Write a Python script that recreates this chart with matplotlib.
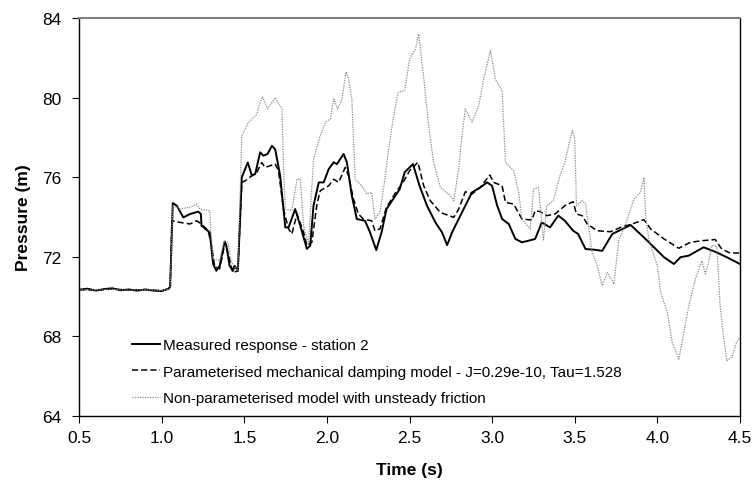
import matplotlib.pyplot as plt

# measured response - station 2
t_meas = [0.5, 0.55, 0.6, 0.65, 0.7, 0.75, 0.8, 0.85, 0.9, 0.95, 1.0, 1.04, 1.05,
          1.066, 1.09, 1.13, 1.17, 1.22, 1.236, 1.24, 1.29, 1.31, 1.33, 1.35, 1.38, 1.39,
          1.41, 1.43, 1.44, 1.46, 1.484, 1.52, 1.545, 1.565, 1.595, 1.615, 1.64, 1.666,
          1.686, 1.716, 1.747, 1.767, 1.807, 1.838, 1.878, 1.898, 1.918, 1.95, 1.98, 2.01,
          2.04, 2.06, 2.10, 2.12, 2.15, 2.18, 2.23, 2.26, 2.298, 2.33, 2.36, 2.40, 2.44,
          2.47, 2.52, 2.56, 2.605, 2.656, 2.696, 2.727, 2.757, 2.797, 2.837, 2.878, 2.928,
          2.969, 2.999, 3.03, 3.06, 3.10, 3.14, 3.18, 3.22, 3.26, 3.30, 3.35, 3.40, 3.44,
          3.49, 3.52, 3.565, 3.615, 3.666, 3.727, 3.767, 3.838, 3.939, 4.04, 4.10, 4.14,
          4.19, 4.28, 4.36, 4.42, 4.50]
p_meas = [70.35, 70.4, 70.3, 70.38, 70.42, 70.32, 70.36, 70.3, 70.36, 70.3, 70.28, 70.4, 70.5,
          74.7, 74.57, 73.98, 74.15, 74.27, 74.15, 73.56, 73.23, 71.64, 71.3, 71.55, 72.76, 72.56,
          71.55, 71.3, 71.55, 71.3, 76.0, 76.74, 76.08, 76.16, 77.25, 77.08, 77.17, 77.58,
          77.4, 76.08, 73.48, 73.48, 74.4, 73.56, 72.4, 72.56, 74.57, 75.74, 75.74, 76.41,
          76.75, 76.66, 77.17, 76.75, 75.07, 73.9, 73.81, 73.23, 72.34, 73.23, 74.4, 74.9, 75.4,
          76.25, 76.66, 75.57, 74.57, 73.73, 73.23, 72.59, 73.23, 73.9, 74.57, 75.24, 75.49,
          75.74, 75.57, 74.57, 73.9, 73.65, 72.9, 72.73, 72.81, 72.9, 73.73, 73.48, 74.07, 73.81,
          73.31, 73.15, 72.39, 72.36, 72.3, 73.15, 73.31, 73.6, 72.81, 71.98, 71.64, 71.98,
          72.06, 72.48, 72.22, 71.98, 71.64]

# parameterised mechanical damping model
t_param = [0.5, 0.6, 0.7, 0.8, 0.9, 1.0, 1.05, 1.06, 1.11, 1.17, 1.21, 1.24, 1.28, 1.30,
           1.32, 1.35, 1.383, 1.40, 1.43, 1.46, 1.484, 1.504, 1.545, 1.575, 1.605, 1.625,
           1.656, 1.686, 1.706, 1.736, 1.767, 1.787, 1.818, 1.858, 1.878, 1.908, 1.939, 1.959,
           2.01, 2.04, 2.07, 2.11, 2.13, 2.16, 2.19, 2.22, 2.27, 2.29, 2.32, 2.36, 2.41, 2.46,
           2.50, 2.55, 2.585, 2.625, 2.686, 2.767, 2.797, 2.837, 2.878, 2.928, 2.985, 3.009,
           3.06, 3.08, 3.13, 3.18, 3.24, 3.26, 3.29, 3.33, 3.38, 3.44, 3.49, 3.51, 3.545, 3.575,
           3.636, 3.716, 3.777, 3.848, 3.918, 3.959, 4.04, 4.13, 4.20, 4.27, 4.35, 4.39, 4.44,
           4.50]
p_param = [70.35, 70.32, 70.38, 70.33, 70.35, 70.3, 70.4, 73.81, 73.73, 73.65, 73.81, 73.65,
           73.31, 72.6, 71.5, 71.4, 72.73, 72.2, 71.2, 71.3, 75.74, 75.82, 76.08, 76.25, 76.74,
           76.49, 76.58, 76.66, 76.33, 74.4, 73.4, 73.15, 74.15, 73.23, 72.56, 72.73, 74.65,
           75.32, 75.57, 75.9, 75.74, 76.49, 76.08, 74.9, 74.15, 73.9, 73.81, 73.31, 73.4,
           74.49, 75.16, 75.74, 76.33, 76.75, 75.57, 74.82, 74.23, 73.98, 74.4, 75.27, 75.16,
           75.49, 76.11, 75.74, 75.57, 74.74, 74.65, 73.9, 73.85, 74.32, 74.27, 74.07, 74.15,
           74.57, 74.77, 74.15, 74.07, 73.65, 73.31, 73.26, 73.48, 73.65, 73.87, 73.4, 72.9,
           72.43, 72.73, 72.81, 72.87, 72.39, 72.19, 72.19]

# non-parameterised model with unsteady friction
t_nonp = [0.5, 0.6, 0.7, 0.8, 0.9, 1.0, 1.05, 1.066, 1.11, 1.17, 1.21, 1.23, 1.29, 1.296,
          1.31, 1.35, 1.377, 1.40, 1.42, 1.46, 1.484, 1.524, 1.575, 1.595, 1.609, 1.64, 1.686,
          1.727, 1.736, 1.747, 1.787, 1.818, 1.838, 1.858, 1.888, 1.918, 1.959, 1.99, 2.02,
          2.04, 2.064, 2.09, 2.115, 2.13, 2.15, 2.17, 2.21, 2.24, 2.27, 2.29, 2.32, 2.35, 2.37,
          2.40, 2.43, 2.47, 2.50, 2.535, 2.555, 2.585, 2.615, 2.645, 2.686, 2.747, 2.767,
          2.797, 2.817, 2.837, 2.878, 2.918, 2.948, 2.989, 3.019, 3.06, 3.08, 3.13, 3.16, 3.18,
          3.23, 3.25, 3.28, 3.31, 3.33, 3.37, 3.41, 3.44, 3.484, 3.50, 3.51, 3.545, 3.565,
          3.605, 3.636, 3.666, 3.697, 3.737, 3.767, 3.797, 3.858, 3.898, 3.919, 3.93, 3.95,
          4.0, 4.02, 4.06, 4.09, 4.13, 4.16, 4.19, 4.23, 4.27, 4.29, 4.31, 4.33, 4.36, 4.38,
          4.40, 4.42, 4.45, 4.48, 4.50]
p_nonp = [70.35, 70.33, 70.37, 70.32, 70.35, 70.3, 70.4, 74.6, 74.4, 74.49, 74.65, 74.4,
          74.32, 73.31, 71.89, 71.81, 72.81, 72.73, 71.72, 71.3, 78.09, 78.75, 79.17, 79.76,
          80.05, 79.43, 80.0, 79.43, 76.58, 74.4, 74.32, 75.9, 75.9, 73.56, 72.64, 76.9, 78.09,
          78.76, 78.93, 79.93, 79.43, 79.93, 81.3, 80.93, 79.93, 75.9, 75.57, 75.16, 75.24,
          73.9, 74.23, 75.9, 77.25, 78.93, 80.26, 80.35, 81.94, 82.44, 83.2, 81.02, 78.59,
          76.75, 75.49, 75.07, 74.82, 76.41, 78.09, 79.43, 78.76, 79.59, 80.93, 82.36, 80.93,
          80.35, 76.75, 76.33, 75.24, 73.9, 73.4, 75.4, 75.49, 72.81, 74.57, 74.82, 76.08,
          76.75, 78.34, 77.92, 74.57, 74.82, 74.65, 72.22, 71.55, 70.55, 71.22, 70.63, 72.9,
          73.4, 74.9, 75.24, 75.99, 73.9, 72.81, 71.55, 70.21, 69.21, 67.7, 66.86, 68.2, 69.54,
          70.88, 71.8, 71.14, 71.72, 72.56, 72.56, 69.54, 68.03, 66.78, 66.95, 67.7, 67.95]

labels = ['Measured response - station 2',
          'Parameterised mechanical damping model - J=0.29e-10, Tau=1.528',
          'Non-parameterised model with unsteady friction']
x_ticks = [0.5, 1.0, 1.5, 2.0, 2.5, 3.0, 3.5, 4.0, 4.5]
y_ticks = [64, 68, 72, 76, 80, 84]

plt.rcParams['font.family'] = ['Liberation Sans', 'DejaVu Sans']

fig = plt.figure(figsize=(7.56, 4.89), dpi=100)
ax = fig.add_axes([0.1049, 0.1472, 0.8739, 0.8139])

ax.plot(t_meas, p_meas, color='black', linewidth=1.4, label=labels[0])
ax.plot(t_param, p_param, color='black', linewidth=1.1, linestyle=(0, (4, 2)), label=labels[1])
ax.plot(t_nonp, p_nonp, color='#8a8a8a', linewidth=0.9, linestyle=(0, (1, 1)), label=labels[2])

ax.set_xlim(0.5, 4.5)
ax.set_ylim(64, 84)
ax.set_xticks(x_ticks)
ax.set_xticklabels(['%.1f' % v for v in x_ticks])
ax.set_yticks(y_ticks)
ax.tick_params(direction='out', length=5, width=0.8, labelsize=12.5, color='black')
ax.tick_params(axis='y', pad=8)
ax.tick_params(axis='x', pad=5)
ax.spines['top'].set_color('#808080')
ax.spines['top'].set_linewidth(1.5)
for s in ['left', 'bottom', 'right']:
    ax.spines[s].set_linewidth(1.0)

ax.set_xlabel('Time (s)', fontsize=12.5, fontweight='bold', labelpad=12)
ax.set_ylabel('Pressure (m)', fontsize=12.5, fontweight='bold', labelpad=8)

leg = ax.legend(loc='lower left', bbox_to_anchor=(0.0707, 0.0126), borderaxespad=0,
                frameon=False, prop={'size': 11},
                handlelength=1.85, handletextpad=0.15, labelspacing=0.8)

fig.savefig('out.png', dpi=100)
